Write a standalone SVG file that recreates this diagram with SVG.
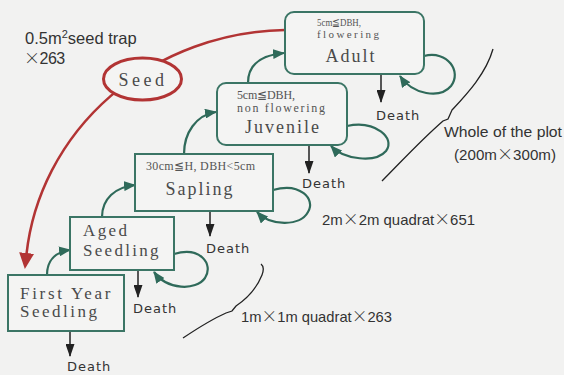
<svg xmlns="http://www.w3.org/2000/svg" width="564" height="375" viewBox="0 0 564 375">
<defs>
<style>
.box{fill:#f4f4f3;stroke:#3b7565;stroke-width:2}
.lbl{font-family:"Liberation Serif","DejaVu Serif",serif;fill:#4a4a4a;font-size:18px;letter-spacing:2px}
.cond{font-family:"Liberation Serif","DejaVu Serif",serif;fill:#555;font-size:12px}
.death{font-family:"DejaVu Sans",sans-serif;fill:#333;font-size:13px;letter-spacing:1px}
.note{font-family:"Liberation Sans",Arial,sans-serif;fill:#333;font-size:15px}
.x{font-family:"Noto Sans CJK JP","Liberation Sans",sans-serif;font-size:16px;font-weight:300}
.g{fill:none;stroke:#2f6a5a;stroke-width:2.2}
.d{fill:none;stroke:#222;stroke-width:1.5}
.brace{fill:none;stroke:#222;stroke-width:1.3}
</style>
<marker id="ga" markerWidth="12" markerHeight="10" refX="11" refY="5" orient="auto" markerUnits="userSpaceOnUse"><path d="M0,0 L12,5 L0,10 Z" fill="#2f6a5a"/></marker>
<marker id="da" markerWidth="9" markerHeight="13" refX="4.5" refY="12" orient="0" markerUnits="userSpaceOnUse"><path d="M0,0 L9,0 L4.5,13 Z" fill="#222"/></marker>
<marker id="ra" markerWidth="16" markerHeight="15" refX="1" refY="7.5" orient="auto" markerUnits="userSpaceOnUse"><path d="M0,0 L16,7.5 L0,15 Z" fill="#b23434"/></marker>
</defs>
<rect x="0" y="0" width="564" height="375" fill="#f2f2f1"/>

<g id="connectors">
<path d="M285,30 A265,250 0 0 0 26.5,254" fill="none" stroke="#b23434" stroke-width="2.5" marker-end="url(#ra)"/>
<path class="g" d="M47,275 C47,261 55,252 70,250" marker-end="url(#ga)"/>
<path class="g" d="M102,217 C102,199 115,187 135,185" marker-end="url(#ga)"/>
<path class="g" d="M184,154 C184,133 196,115 216,112" marker-end="url(#ga)"/>
<path class="g" d="M248,83 C248,64 262,55 284,53" marker-end="url(#ga)"/>
<path class="g" d="M424,56 C448,50 462,72 451,86 C440,99 413,95 400,76" marker-end="url(#ga)"/>
<path class="g" d="M347,126 C375,120 396,138 386,151 C376,163 344,160 331,146" marker-end="url(#ga)"/>
<path class="g" d="M273,190 C300,182 316,199 308,212 C300,227 270,226 257,212" marker-end="url(#ga)"/>
<path class="g" d="M174,254 C200,246 214,264 205,278 C196,291 167,290 154,272" marker-end="url(#ga)"/>
<path class="d" d="M381,74 L381,102" marker-end="url(#da)"/>
<path class="d" d="M309,145 L309,173" marker-end="url(#da)"/>
<path class="d" d="M210,211 L210,236" marker-end="url(#da)"/>
<path class="d" d="M138,270 L138,297" marker-end="url(#da)"/>
<path class="d" d="M70,331 L70,356" marker-end="url(#da)"/>
</g>

<g id="seed">
<ellipse cx="142.5" cy="79" rx="39" ry="21" fill="#f4f4f3" stroke="#b23434" stroke-width="3"/>
<text class="lbl" x="143" y="86" text-anchor="middle" style="letter-spacing:3.5px">Seed</text>
</g>

<g id="adult">
<rect class="box" x="285" y="12" width="139" height="62" rx="9"/>
<text class="cond" x="317" y="25.5" style="font-size:10.5px" textLength="44" lengthAdjust="spacingAndGlyphs">5cm≦DBH,</text>
<text class="cond" x="317" y="37.5" style="font-size:11px" textLength="62" lengthAdjust="spacing">flowering</text>
<text class="lbl" x="351" y="62" text-anchor="middle">Adult</text>
</g>

<g id="juvenile">
<rect class="box" x="217" y="83" width="130" height="62" rx="9"/>
<text class="cond" x="237" y="99" textLength="58" lengthAdjust="spacing">5cm≦DBH,</text>
<text class="cond" x="237" y="112" textLength="88" lengthAdjust="spacing">non flowering</text>
<text class="lbl" x="283" y="133" text-anchor="middle">Juvenile</text>
</g>

<g id="sapling">
<rect class="box" x="135" y="154" width="138" height="57"/>
<text class="cond" x="146" y="170" textLength="109" lengthAdjust="spacing">30cm≦H, DBH&lt;5cm</text>
<text class="lbl" x="200" y="195" text-anchor="middle">Sapling</text>
</g>

<g id="aged-seedling">
<rect class="box" x="70" y="217" width="104" height="53"/>
<text class="lbl" x="83" y="236" style="font-size:17px;letter-spacing:2.4px">Aged</text>
<text class="lbl" x="83" y="256" style="font-size:17px;letter-spacing:2.3px">Seedling</text>
</g>

<g id="first-year-seedling">
<rect class="box" x="8" y="275" width="116" height="56"/>
<text class="lbl" x="20" y="299" style="font-size:17px;letter-spacing:2.7px">First Year</text>
<text class="lbl" x="20" y="317" style="font-size:17px;letter-spacing:2.5px">Seedling</text>
</g>

<g id="death-labels">
<text class="death" x="376" y="120">Death</text>
<text class="death" x="302" y="188">Death</text>
<text class="death" x="206" y="253">Death</text>
<text class="death" x="133" y="313">Death</text>
<text class="death" x="67" y="371">Death</text>
</g>

<g id="annotations">
<text class="note" x="25" y="44" style="font-size:16.5px">0.5m<tspan font-size="11" dy="-6">2</tspan><tspan dy="6">seed trap</tspan></text>
<text class="note" x="24" y="64" style="font-size:16px;letter-spacing:-0.5px"><tspan class="x">×</tspan>263</text>
<text class="note" x="444" y="137" textLength="118" lengthAdjust="spacingAndGlyphs">Whole of the plot</text>
<text class="note" x="454" y="160" textLength="102" lengthAdjust="spacingAndGlyphs">(200m<tspan class="x">×</tspan>300m)</text>
<text class="note" x="322" y="225" textLength="153" lengthAdjust="spacingAndGlyphs">2m<tspan class="x">×</tspan>2m quadrat<tspan class="x">×</tspan>651</text>
<text class="note" x="241" y="322" textLength="151" lengthAdjust="spacingAndGlyphs">1m<tspan class="x">×</tspan>1m quadrat<tspan class="x">×</tspan>263</text>
<path class="brace" d="M493,49 C486,74 466,95 452,110 L448,119 L443,121 C420,141 401,162 382,181"/>
<path class="brace" d="M261,264 Q265,267 262,275 C256,290 245,300 236,306 L232,311 L226,313 C210,320 195,330 183,338"/>
</g>
</svg>
